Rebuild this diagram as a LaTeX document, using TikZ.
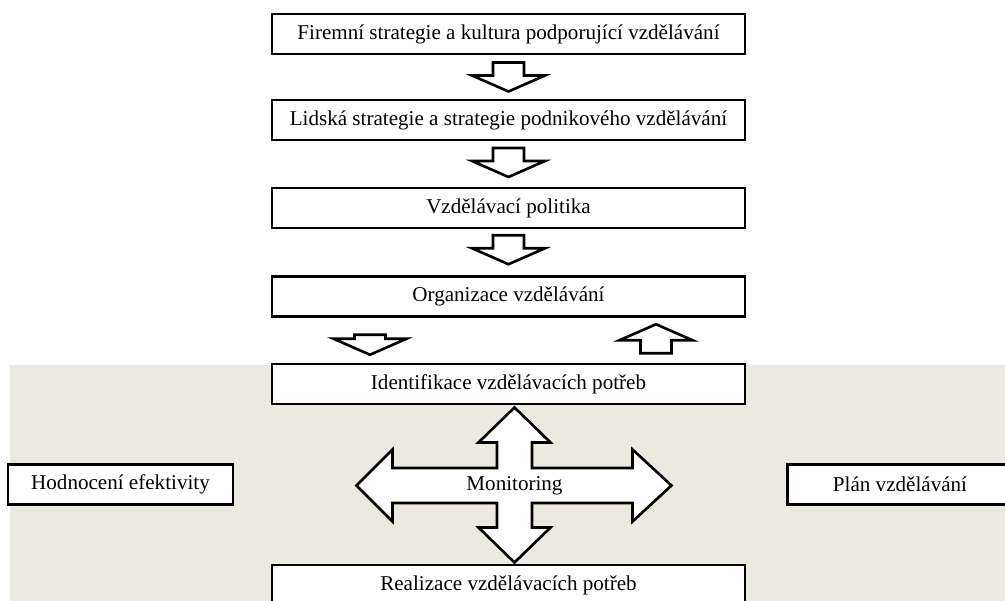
\documentclass[tikz,border=0pt]{standalone}
\usepackage{fontspec}
\setmainfont{Liberation Serif}
\usetikzlibrary{calc}
\definecolor{panel}{HTML}{ECE9E0}

\begin{document}
\begin{tikzpicture}[x=0.02cm,y=-0.02cm,font=\fontsize{12}{14}\selectfont,
  box/.style={draw,line width=1.5pt,fill=white,minimum width=9.46cm,minimum height=0.8cm,inner sep=0pt},
  side/.style={box,minimum width=4.5cm},
  blkline/.style={draw,line width=1.5pt,fill=white,line join=miter},
  pics/blockarr/.style={code={\path[blkline] (-15.5,-#1) -- (15.5,-#1) -- (15.5,-1.5) -- (36.5,-1.5)
    -- (0,14.5) -- (-36.5,-1.5) -- (-15.5,-1.5) -- cycle;}}]
\path[use as bounding box,clip] (0,0) rectangle (1005,601);
\fill[panel] (10,365) rectangle (1005,601);
\node[box] (fs) at (508.5,34) {Firemní strategie a kultura podporující vzdělávání};
\node[box] (ls) at (508.5,120) {Lidská strategie a strategie podnikového vzdělávání};
\node[box] (vp) at (508.5,208) {Vzdělávací politika};
\node[box] (org) at (508.5,296.5) {Organizace vzdělávání};
\node[box] (ident) at (508.5,384) {Identifikace vzdělávacích potřeb};
\node[box] (real) at (508.5,585) {Realizace vzdělávacích potřeb};
\node[side] (hodn) at (120.5,484.5) {Hodnocení efektivity};
\node[side] (plan) at (900,484.5) {Plán vzdělávání};
% block arrows between the boxes
\pic (a1) at ($(fs.south)!0.5!(ls.north)$) {blockarr=14.5};
\pic (a2) at ($(ls.south)!0.5!(vp.north)+(0,-1.5)$) {blockarr=14.5};
\pic (a3) at ($(vp.south)!0.5!(org.north)+(0,-2.5)$) {blockarr=14.5};
\pic (a4) at ($(org.south)!0.5!(ident.north)+(-138.5,0)$) {blockarr=5.5};
\pic[rotate=180] (a5) at ($(org.south)!0.5!(ident.north)+(147.5,-1.5)$) {blockarr=14.5};
% monitoring cross
\coordinate (mon) at (514.5,485.5);
\path[blkline,shift={(mon)}]
  (-158,0) -- (-122,-36) -- (-122,-17.5) -- (-17.5,-17.5) -- (-17.5,-43) -- (-36,-43) -- (0,-78)
  -- (36,-43) -- (17.5,-43) -- (17.5,-17.5) -- (118,-17.5) -- (118,-36) -- (157,0)
  -- (118,36) -- (118,17.5) -- (17.5,17.5) -- (17.5,42) -- (36,42) -- (0,77)
  -- (-36,42) -- (-17.5,42) -- (-17.5,17.5) -- (-122,17.5) -- (-122,36) -- cycle;
\node (montext) at (mon) {Monitoring};
\end{tikzpicture}
\end{document}
